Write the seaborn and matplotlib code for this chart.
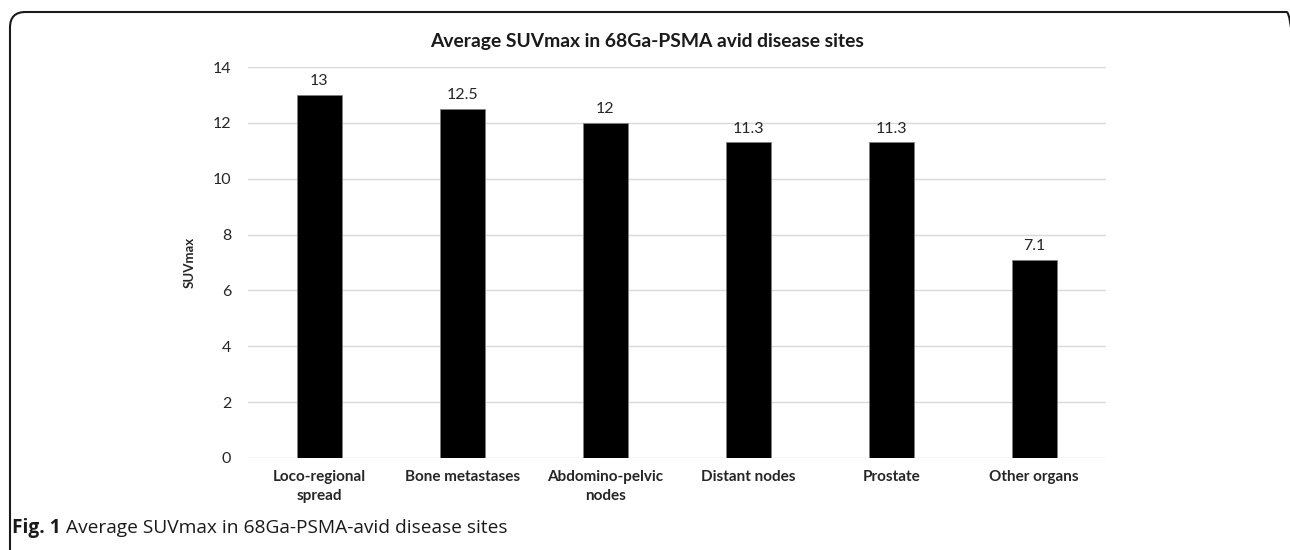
import numpy as np
import pandas as pd
import matplotlib.pyplot as plt
import seaborn as sns
from matplotlib.patches import FancyBboxPatch

# data
sites = ['Loco-regional\nspread', 'Bone metastases', 'Abdomino-pelvic\nnodes',
         'Distant nodes', 'Prostate', 'Other organs']
suvmax = [13, 12.5, 12, 11.3, 11.3, 7.1]
value_labels = ['13', '12.5', '12', '11.3', '11.3', '7.1']
y_ticks = [0, 2, 4, 6, 8, 10, 12, 14]

df = pd.DataFrame({'site': sites, 'suvmax': suvmax})

sns.set_theme(style='white')
plt.rcParams['font.family'] = ['Lato', 'DejaVu Sans']

fig = plt.figure(figsize=(12.9, 5.5), dpi=100)
ax = fig.add_axes([0.1922, 0.1673, 0.857 - 0.1922, 0.878 - 0.1673])

sns.barplot(data=df, x='site', y='suvmax', color='black', width=0.315,
            saturation=1, ax=ax, edgecolor='#808080', linewidth=0.6, zorder=3)

for i, (v, lab) in enumerate(zip(suvmax, value_labels)):
    ax.text(i, v + 0.25, lab, ha='center', va='bottom', fontsize=11.5, color='#262626')

ax.set_ylim(0, 14)
ax.set_xlim(-0.5, len(sites) - 0.5)
ax.set_yticks(y_ticks)
ax.yaxis.grid(True, color='#d9d9d9', linewidth=1, zorder=0)
ax.set_axisbelow(True)
for s in ax.spines.values():
    s.set_visible(False)
ax.tick_params(axis='both', length=0, colors='#262626')
ax.tick_params(axis='y', labelsize=11.5, pad=12)
ax.tick_params(axis='x', labelsize=11, pad=9)
for t in ax.get_xticklabels():
    t.set_fontweight('bold')
    t.set_linespacing(1.45)
ax.set_xlabel('')
ax.set_ylabel('SUVmax', fontsize=9.5, fontweight='bold', color='#262626', labelpad=12)

# Excel-style title, centred on the whole chart area
fig.text(0.5015, 1 - 42 / 550, 'Average SUVmax in 68Ga-PSMA avid disease sites',
         ha='center', va='center', fontsize=13.9, fontweight='bold', color='#1a1a1a')

# rounded frame around the figure panel, right side runs off the image
frame = FancyBboxPatch((10 / 1290, -0.2), (1302 - 10) / 1290, 1 - 12 / 550 + 0.2,
                       boxstyle='round,pad=0,rounding_size=0.012',
                       transform=fig.transFigure, fill=False, edgecolor='#1a1a1a',
                       linewidth=1.5, mutation_aspect=1290 / 550)
fig.patches.append(frame)

cap = fig.text(12 / 1290, 1 - 528 / 550, 'Fig. 1', ha='left', va='center',
               fontsize=13.8, fontweight='bold', color='#1a1a1a', family=['Open Sans', 'DejaVu Sans'])
fig.canvas.draw()
ax.annotate(' Average SUVmax in 68Ga-PSMA-avid disease sites', xy=(1, 0.5), xycoords=cap,
            ha='left', va='center', fontsize=13.8, color='#1a1a1a',
            family=['Open Sans', 'DejaVu Sans'], annotation_clip=False)

fig.savefig('out.png', dpi=100)
